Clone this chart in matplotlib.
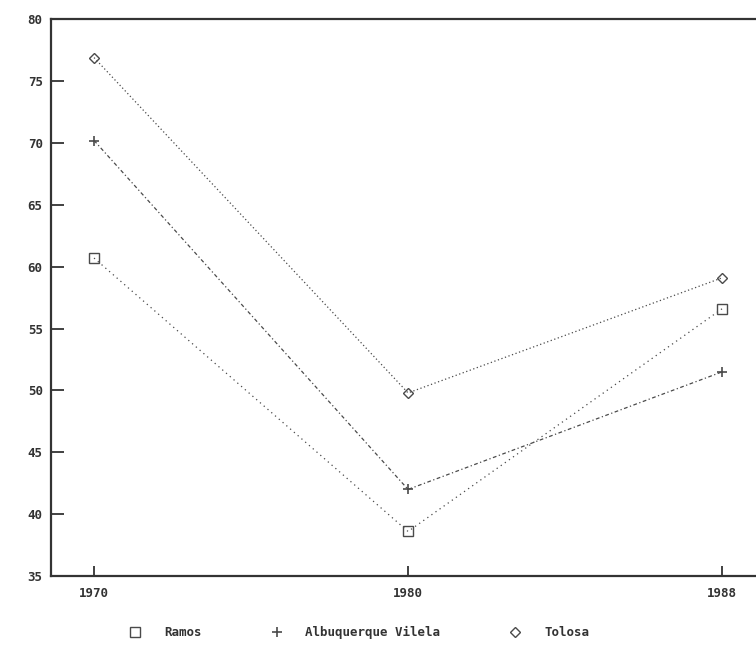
import matplotlib
matplotlib.use('Agg')
import matplotlib.pyplot as plt

# data
years = ['1970', '1980', '1988']
ramos = [60.7, 38.6, 56.6]
albuquerque = [70.2, 42.0, 51.5]
tolosa = [76.9, 49.8, 59.1]
y_ticks = [35, 40, 45, 50, 55, 60, 65, 70, 75, 80]

plt.rcParams['font.family'] = ['DejaVu Sans Mono', 'DejaVu Sans']

fig = plt.figure(figsize=(7.56, 6.64), dpi=100)
ax = fig.add_axes([0.0675, 0.1325, 0.9325, 0.8385])

x = list(range(len(years)))
ink = '#4a4a4a'
ax.plot(x, ramos, linestyle=(0, (1, 3)), color=ink, lw=0.9,
        marker='s', ms=7, mfc='none', mec=ink, mew=1.0, label='Ramos')
ax.plot(x, albuquerque, linestyle=(0, (3, 2, 1, 2)), color=ink, lw=0.9,
        marker='+', ms=7, mec=ink, mew=1.2, label='Albuquerque Vilela')
ax.plot(x, tolosa, linestyle=(0, (1, 2)), color=ink, lw=0.9,
        marker='D', ms=5, mfc='none', mec=ink, mew=1.0, label='Tolosa')

ax.set_xlim(-0.137, 2.108)
ax.set_ylim(35, 80)
ax.set_xticks(x)
ax.set_xticklabels(years)
ax.set_yticks(y_ticks)

for s in ['left', 'bottom', 'top']:
    ax.spines[s].set_color('#333333')
    ax.spines[s].set_linewidth(1.6)
ax.spines['right'].set_visible(False)

ax.tick_params(axis='both', direction='in', width=1.3,
               color='#333333', labelsize=9, labelcolor='#333333')
ax.tick_params(axis='x', length=7, pad=8)
ax.tick_params(axis='y', length=9, pad=6)
for lab in ax.get_xticklabels() + ax.get_yticklabels():
    lab.set_fontweight('bold')

fig.legend(loc='lower center', bbox_to_anchor=(0.475, 0.02), ncol=3,
           frameon=False, handlelength=1.0, handletextpad=1.8,
           columnspacing=5.5, prop={'size': 9, 'weight': 'bold'},
           labelcolor='#333333')
# show only the markers in the legend
for h in fig.legends[0].legend_handles:
    h.set_linestyle('none')

fig.savefig('out.png', dpi=100)
